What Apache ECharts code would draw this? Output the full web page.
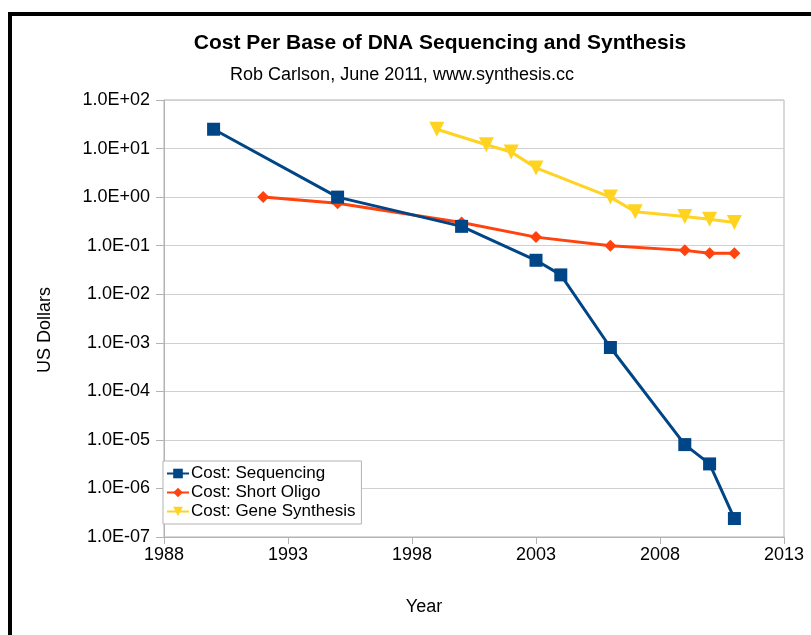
<!DOCTYPE html>
<html>
<head>
<meta charset="utf-8">
<script src="https://cdn.jsdelivr.net/npm/echarts@6/dist/echarts.min.js"></script>
<style>
html,body{margin:0;padding:0;background:#fff;}
#chart{width:811px;height:635px;}
</style>
</head>
<body>
<div id="chart"></div>
<script>
// Data
const seqYears = [1990, 1995, 2000, 2003, 2004, 2006, 2009, 2010, 2011];
const seqCost = [25, 1.0, 0.25, 0.05, 0.025, 0.0008, 0.000008, 0.0000032, 0.00000024];

const oligoYears = [1992, 1995, 2000, 2003, 2006, 2009, 2010, 2011];
const oligoCost = [1.0, 0.75, 0.3, 0.15, 0.1, 0.08, 0.07, 0.07];

const geneYears = [1999, 2001, 2002, 2003, 2006, 2007, 2009, 2010, 2011];
const geneCost = [25, 12, 8.5, 4, 1.0, 0.5, 0.4, 0.35, 0.3];

const xTicks = [1988, 1993, 1998, 2003, 2008, 2013];
const seriesNames = ['Cost: Sequencing', 'Cost: Short Oligo', 'Cost: Gene Synthesis'];

const pair = (xs, ys) => xs.map((x, i) => [x, ys[i]]);

const FONT = '"Liberation Sans", Arial, sans-serif';

function sci(v) {
  const e = Math.round(Math.log10(v));
  return '1.0E' + (e >= 0 ? '+' : '-') + String(Math.abs(e)).padStart(2, '0');
}

const chart = echarts.init(document.getElementById('chart'), null, {renderer: 'canvas'});
chart.setOption({
  animation: false,
  backgroundColor: '#ffffff',
  textStyle: {fontFamily: FONT},
  title: [
    {text: 'Cost Per Base of DNA Sequencing and Synthesis', left: 435, top: 28, textAlign: 'center',
     textStyle: {fontFamily: FONT, fontSize: 21, fontWeight: 'bold', color: '#000'}},
    {text: 'Rob Carlson, June 2011, www.synthesis.cc', left: 397, top: 61, textAlign: 'center',
     textStyle: {fontFamily: FONT, fontSize: 18, fontWeight: 'normal', color: '#000'}}
  ],
  graphic: [
    {type: 'rect', shape: {x: 8, y: 12, width: 803, height: 4}, style: {fill: '#000'}},
    {type: 'rect', shape: {x: 8, y: 12, width: 4, height: 623}, style: {fill: '#000'}},
    {type: 'text', x: 424, y: 607, style: {text: 'Year', fill: '#000', font: '18px ' + FONT, align: 'center', verticalAlign: 'middle'}},
    {type: 'text', x: 45, y: 330, rotation: Math.PI / 2, style: {text: 'US Dollars', fill: '#000', font: '18px ' + FONT, align: 'center', verticalAlign: 'middle'}}
  ],
  grid: {left: 164, right: 27, top: 100, bottom: 98, show: true, borderColor: '#b3b3b3', borderWidth: 1, backgroundColor: 'transparent'},
  legend: {
    orient: 'vertical', left: 163, top: 461,
    data: seriesNames,
    backgroundColor: '#fff', borderColor: '#b3b3b3', borderWidth: 1,
    padding: [4, 6, 4, 3], itemGap: 2, itemWidth: 22, itemHeight: 12,
    textStyle: {fontFamily: FONT, fontSize: 17, color: '#000', padding: [0, 0, 0, -3]}
  },
  xAxis: {
    type: 'value', min: 1988, max: 2013,
    axisLine: {show: true, lineStyle: {color: '#b3b3b3'}},
    axisTick: {show: true, length: 7, lineStyle: {color: '#b3b3b3'}, customValues: xTicks},
    axisLabel: {fontFamily: FONT, fontSize: 18, color: '#000', margin: 9, customValues: xTicks,
      formatter: v => String(v)},
    splitLine: {show: false}
  },
  yAxis: {
    type: 'log', logBase: 10, min: 1e-7, max: 100, splitNumber: 9,
    axisLine: {show: true, lineStyle: {color: '#b3b3b3'}},
    axisTick: {show: true, length: 8, lineStyle: {color: '#b3b3b3'}},
    axisLabel: {fontFamily: FONT, fontSize: 18, color: '#000', margin: 14, formatter: sci},
    splitLine: {show: true, lineStyle: {color: '#d0d0d0', width: 1}}
  },
  series: [
    {name: seriesNames[0], type: 'line', data: pair(seqYears, seqCost),
     symbol: 'rect', symbolSize: 13, lineStyle: {width: 3, color: '#004586'},
     itemStyle: {color: '#004586'}, z: 3},
    {name: seriesNames[1], type: 'line', data: pair(oligoYears, oligoCost),
     symbol: 'diamond', symbolSize: 12, lineStyle: {width: 3, color: '#ff420e'},
     itemStyle: {color: '#ff420e'}, z: 2},
    {name: seriesNames[2], type: 'line', data: pair(geneYears, geneCost),
     symbol: 'triangle', symbolRotate: 180, symbolSize: 15, lineStyle: {width: 3, color: '#ffd320'},
     itemStyle: {color: '#ffd320'}, z: 2}
  ]
});
</script>
</body>
</html>
